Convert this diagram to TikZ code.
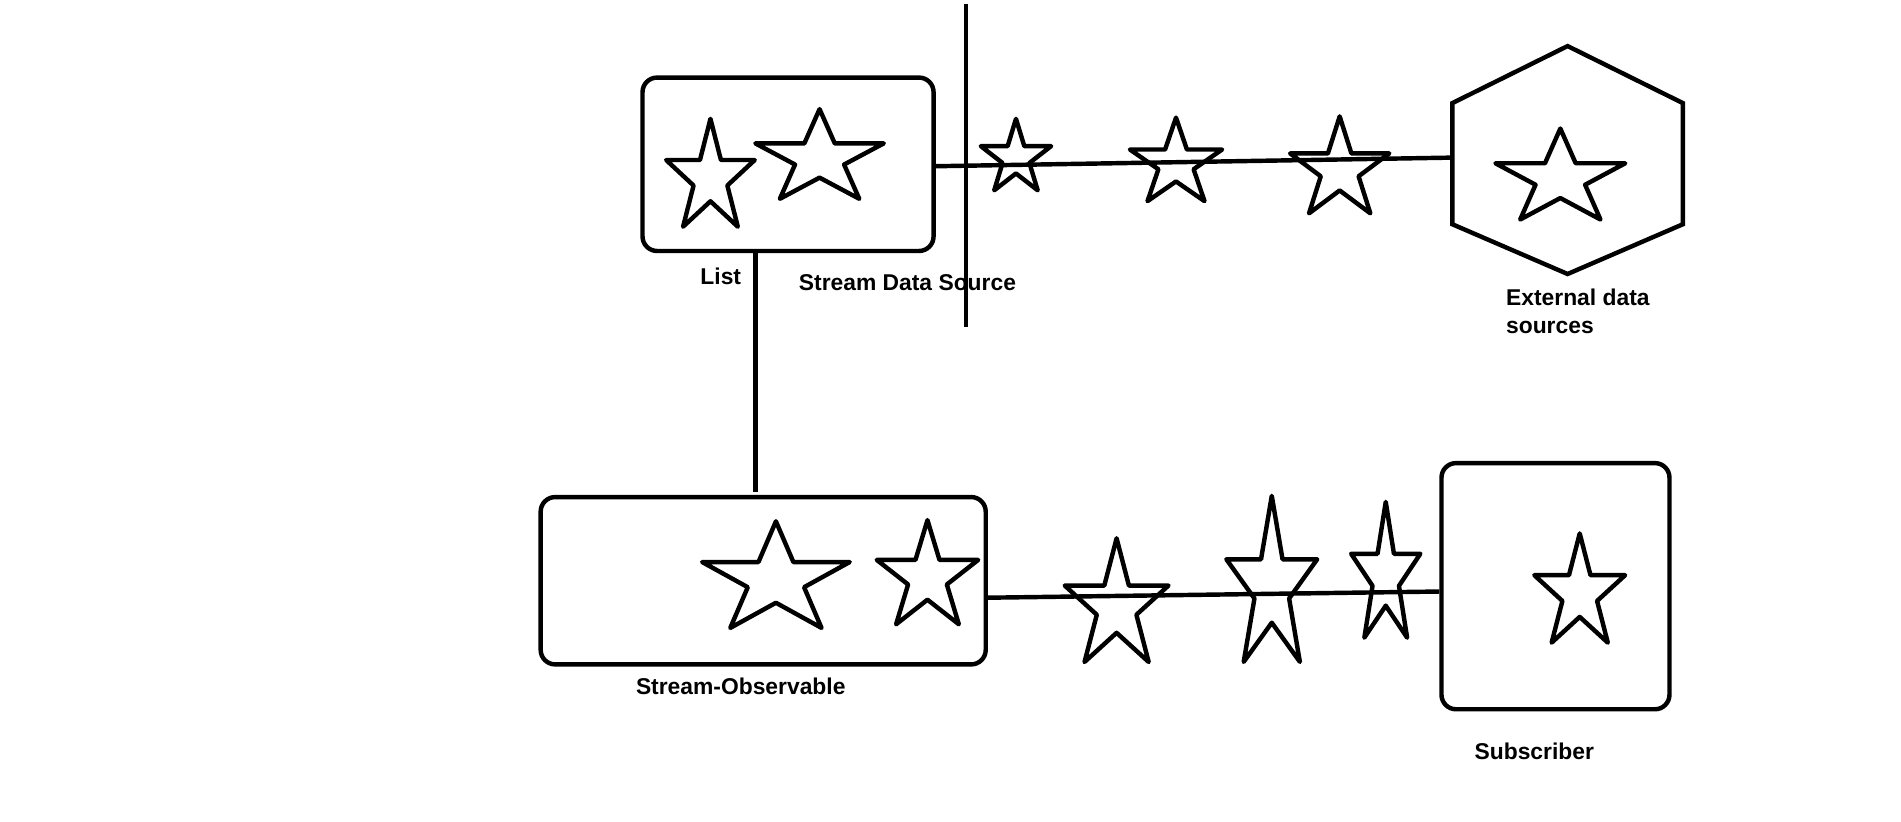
\documentclass[tikz,border=0pt]{standalone}
\usepackage{fontspec}
\setmainfont{Liberation Sans}
\usetikzlibrary{calc}
\tikzset{
 ln/.style={line width=2.6pt, line join=round, line cap=round},
 box/.style={draw, line width=2.6pt, rounded corners=0.3cm, inner sep=0pt},
 lbl/.style={font=\fontsize{13.4}{16}\selectfont\bfseries, inner sep=0pt, anchor=base}
}
\newcommand\mystar[4]{\draw[ln, shift={(#1,#2)}, xscale=#3, yscale=#4] (0,-1) -- (0.225,-0.309) -- (0.951,-0.309) -- (0.363,0.118) -- (0.588,0.809) -- (0,0.382) -- (-0.588,0.809) -- (-0.363,0.118) -- (-0.951,-0.309) -- (-0.225,-0.309) -- cycle;}
\begin{document}
\begin{tikzpicture}[x=0.025cm,y=-0.025cm]
\useasboundingbox[fill=white] (0,0) rectangle (1568,678);
% boxes
\node[box, minimum width=6cm, minimum height=3.575cm] (list) at (650,135.5) {};
\node[box, minimum width=9.175cm, minimum height=3.45cm] (obs) at (629.5,479) {};
\node[box, minimum width=4.7cm, minimum height=5.075cm] (sub) at (1283,483.5) {};
% hexagon
\draw[ln, line join=miter] (1293,38) -- (1388,85) -- (1388,185) -- (1293,226) -- (1198,185) -- (1198,85) -- cycle;
\coordinate (hexL) at (1198,130);
% divider
\coordinate (divtop) at (797,3);
\coordinate (divbot) at (797,270);
\draw[ln, line cap=butt] (divtop) -- (divbot);
% connectors
\draw[ln, line cap=butt] ([yshift=-0.04cm]list.east) -- (hexL);
\coordinate (c1) at (623,406);
\draw[ln, line cap=butt] (c1 |- list.south) -- (c1);
\draw[ln, line cap=butt] ([yshift=-0.35cm]obs.east) -- ([yshift=-0.11cm]sub.west);
% stars
\mystar{586}{147.2}{38.4}{49.2}
\mystar{676}{130.9}{55.7}{40.9}
\mystar{838}{130.6}{30.5}{32.6}
\mystar{970}{135.1}{40}{38.1}
\mystar{1105}{140.2}{43}{44.2}
\mystar{1287}{147.5}{56.3}{41.5}
\mystar{640}{478.6}{64}{48.6}
\mystar{765}{476.5}{44}{47.5}
\mystar{921}{500.4}{45}{56.4}
\mystar{1049}{484.7}{39.4}{75.7}
\mystar{1143}{475.9}{30}{61.9}
\mystar{1303}{489.8}{39.4}{49.8}
% labels
\node[lbl] (tlist) at (594.5,234.8) {List};
\node[lbl] (tsds) at (748.5,239.8) {Stream Data Source};
\node[lbl, anchor=base west] (text1) at (1242,251.8) {External data};
\node[lbl, anchor=base west] (text2) at (1242,274.8) {sources};
\node[lbl] (tobs) at (611,572.8) {Stream-Observable};
\node[lbl] (tsub) at (1265.5,626.8) {Subscriber};
\end{tikzpicture}
\end{document}
